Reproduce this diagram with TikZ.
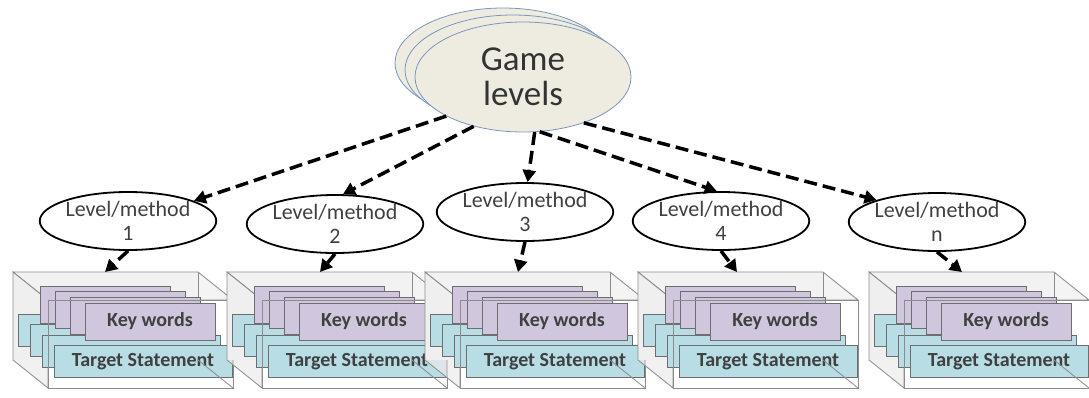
\documentclass[tikz,border=0pt]{standalone}
\usepackage{fontspec}
\setmainfont{Carlito}
\usetikzlibrary{shapes.geometric,arrows.meta}

\definecolor{gamefill}{HTML}{EEECE1}
\definecolor{gameline}{HTML}{7A96BE}
\definecolor{kwfill}{HTML}{D0C7DE}
\definecolor{tsfill}{HTML}{B9DDE5}
\definecolor{cardline}{HTML}{6E6E6E}
\definecolor{boxline}{HTML}{8C8C8C}
\definecolor{txtgray}{HTML}{404040}

\begin{document}
\begin{tikzpicture}[x=1pt,y=-1pt,
  gamelvl/.style={ellipse,draw=gameline,fill=gamefill,line width=0.8pt,
    minimum width=216pt,minimum height=110pt,inner sep=0pt,align=center,
    text=black!80,font=\fontsize{35}{35}\selectfont},
  lvl/.style={ellipse,draw,line width=1.8pt,minimum width=176pt,
    minimum height=58pt,inner sep=0pt,align=center,text=txtgray,
    font=\fontsize{22}{24}\selectfont},
  dasharrow/.style={line width=3.5pt,dash pattern=on 13pt off 6pt,
    -{Triangle[length=12pt,width=13pt]}},
  kwcard/.style={draw=cardline,fill=kwfill,line width=0.8pt},
  tscard/.style={draw=cardline,fill=tsfill,line width=0.8pt},
  face/.style={draw=boxline,line width=0.8pt},
  cardtext/.style={font=\bfseries\fontsize{20}{22}\selectfont,text=txtgray}]

\useasboundingbox (0,0) rectangle (1089,397);

% Niveles del juego (pila de elipses)
\node[gamelvl] (game3) at (503,63) {};
\node[gamelvl] (game2) at (513,70) {};
\node[gamelvl] (game) at (523,77) {Game\\levels};

% Elipses de nivel/metodo
\node[lvl] (lv1) at (128,221) {Level/method\\1};
\node[lvl] (lv2) at (335,224) {Level/method\\2};
\node[lvl] (lv3) at (525,212) {Level/method\\3};
\node[lvl] (lv4) at (721,221) {Level/method\\4};
\node[lvl] (lv5) at (937,222) {Level/method\\n};

% Cajas con tarjetas
\foreach \i/\bx/\tx in {1/13/92, 2/227/93, 3/425/93, 4/638/99, 5/869/93} {
  \begin{scope}[shift={(\bx,272)}]
    % caras traseras
    \fill[gray!4] (0,0) rectangle (185,88);
    \draw[face,fill=gray!12,fill opacity=0.7] (0,0) -- (185,0) -- (220,28) -- (35,28) -- cycle;
    \draw[face,fill=gray!16,fill opacity=0.7] (0,0) -- (35,28) -- (35,116) -- (0,88) -- cycle;
    \draw[face] (185,0) -- (185,88);

    % tarjetas
    \foreach \c in {0,1,2}
      \draw[tscard] (5+12*\c,42+10.5*\c) rectangle ++(178,32);
    \foreach \c in {0,...,3}
      \draw[kwcard] (27+15*\c,14+5.67*\c) rectangle ++(130,37);
    \draw[tscard] (41,73.5) rectangle ++(178,32);
    \node[cardtext] (kw\i) at (137,49.5) {Key words};
    \node[cardtext] (ts\i) at (130,89.5) {Target Statement};

    % cara frontal
    \draw[face] (35,28) rectangle (220,116);
    \draw[face] (185,88) -- (220,116);

    \coordinate (top\i) at (\tx,0);
  \end{scope}
}

% Flechas
\foreach \a/\b [count=\n] in {207/17, 225/75, 282/85, 287/98, 323/160}
  \draw[dasharrow] (game.\a) -- (lv\n.\b);

\foreach \n in {1,...,5}
  \draw[dasharrow] (lv\n.south) -- (top\n);
\end{tikzpicture}
\end{document}
